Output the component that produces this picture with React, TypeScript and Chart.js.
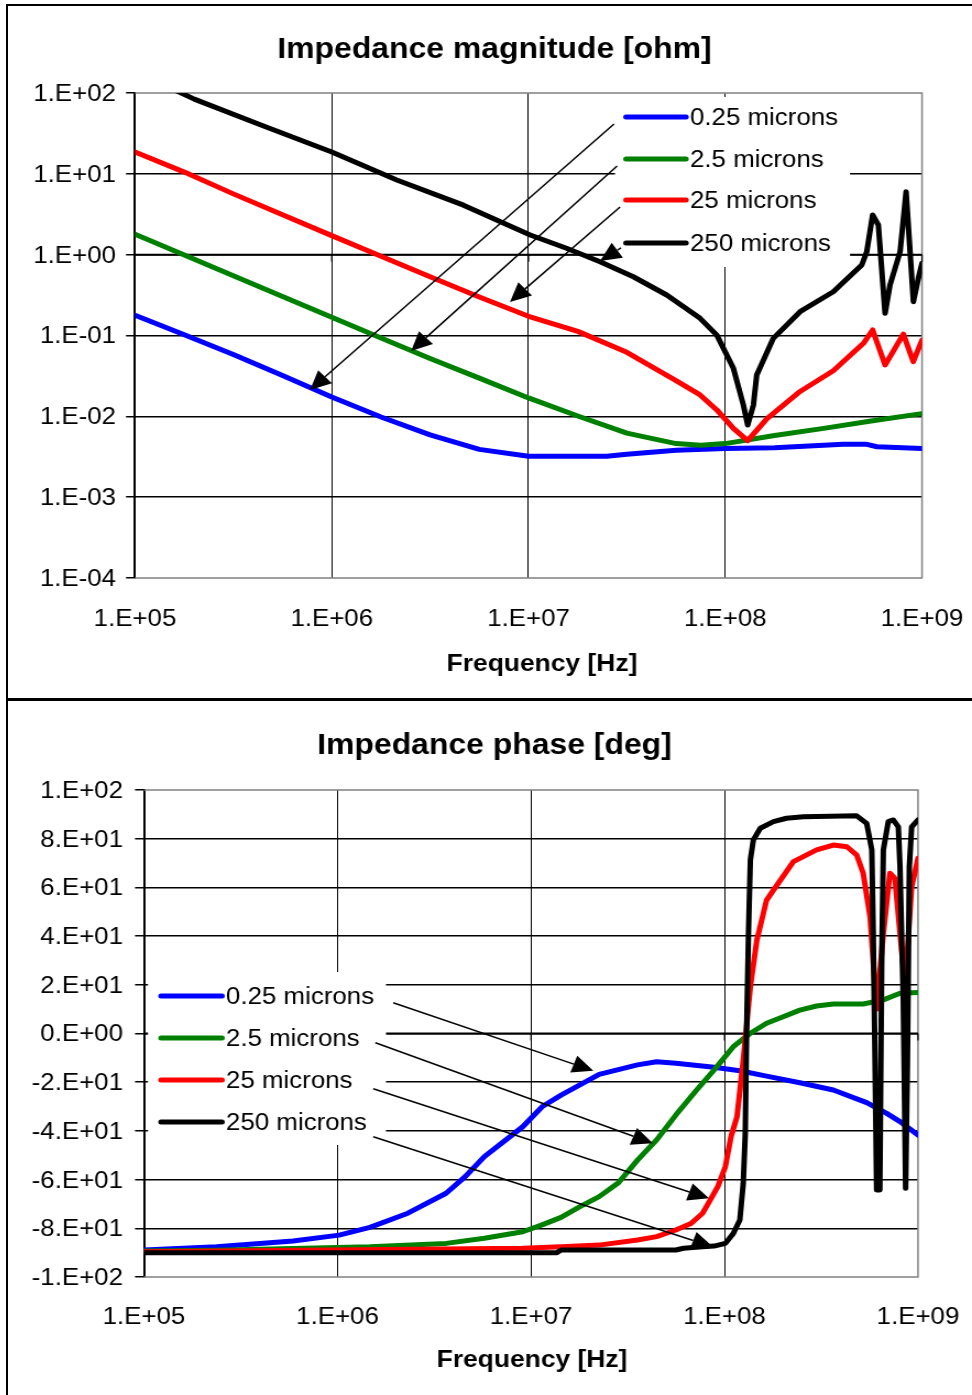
import React, { useEffect, useRef } from 'react';
import { Chart, registerables } from 'chart.js';

Chart.register(...registerables);

const FONT = "'Liberation Sans', Arial, Helvetica, sans-serif";

// ---------- shared ----------
const SERIES_NAMES = ['0.25 microns', '2.5 microns', '25 microns', '250 microns'];
const SERIES_COLORS = ['#0000ff', '#008000', '#ff0000', '#000000'];
const FREQ_TICKS = [1e5, 1e6, 1e7, 1e8, 1e9];
const FREQ_TICK_LABELS = ['1.E+05', '1.E+06', '1.E+07', '1.E+08', '1.E+09'];
const X_TITLE = 'Frequency [Hz]';

// ---------- magnitude chart ----------
const MAG_TITLE = 'Impedance magnitude [ohm]';
const MAG_TICKS = [1e-4, 1e-3, 1e-2, 1e-1, 1, 10, 100];
const MAG_TICK_LABELS = ['1.E-04', '1.E-03', '1.E-02', '1.E-01', '1.E+00', '1.E+01', '1.E+02'];

const MAG_FREQ_0_25 = [1e5, 1.78e5, 3.16e5, 5.62e5, 1e6, 1.78e6, 3.16e6, 5.62e6, 1e7, 1.78e7, 2.5e7, 3.16e7, 5.62e7, 1e8, 1.78e8, 3.16e8, 3.96e8, 5.25e8, 5.9e8, 1e9];
const MAG_0_25 = [0.178, 0.102, 0.0582, 0.0319, 0.0173, 0.0098, 0.0059, 0.0039, 0.0032, 0.0032, 0.0032, 0.0034, 0.0038, 0.004, 0.0041, 0.0044, 0.0045, 0.0045, 0.0042, 0.004];

const MAG_FREQ_2_5 = [1e5, 1.78e5, 3.16e5, 5.62e5, 1e6, 1.78e6, 3.16e6, 5.62e6, 1e7, 1.78e7, 3.16e7, 5.62e7, 7.5e7, 1e8, 1.78e8, 3.16e8, 5.62e8, 1e9];
const MAG_2_5 = [1.79, 0.99, 0.547, 0.303, 0.168, 0.093, 0.052, 0.0297, 0.0169, 0.0101, 0.0062, 0.0046, 0.0044, 0.0046, 0.0058, 0.0071, 0.0088, 0.0108];

const MAG_FREQ_25 = [1e5, 1.78e5, 3.16e5, 5.62e5, 1e6, 1.78e6, 3.16e6, 5.62e6, 1e7, 1.78e7, 3.16e7, 5.62e7, 7.45e7, 9.06e7, 1.1e8, 1.3e8, 1.625e8, 2.4e8, 3.54e8, 5.04e8, 5.61e8, 6.49e8, 8.04e8, 9.03e8, 1e9];
const MAG_25 = [18.6, 10.5, 5.65, 3.11, 1.72, 0.955, 0.532, 0.3, 0.173, 0.1125, 0.062, 0.0277, 0.0184, 0.012, 0.0071, 0.005, 0.0093, 0.0203, 0.0366, 0.08, 0.117, 0.0432, 0.104, 0.0474, 0.088];

const MAG_FREQ_250 = [1e5, 2.0e5, 4.5e5, 1e6, 2.14e6, 4.67e6, 1.02e7, 1.56e7, 2.31e7, 3.41e7, 5.04e7, 7.45e7, 9.06e7, 1.1e8, 1.236e8, 1.3e8, 1.39e8, 1.445e8, 1.755e8, 2.4e8, 3.54e8, 4.94e8, 5.24e8, 5.61e8, 6.0e8, 6.49e8, 6.88e8, 7.74e8, 8.3e8, 9.04e8, 9.58e8, 1e9];
const MAG_250 = [185, 84, 39, 18.6, 8.4, 4.1, 1.75, 1.2, 0.818, 0.533, 0.317, 0.163, 0.101, 0.0393, 0.0138, 0.0078, 0.0138, 0.0324, 0.0923, 0.197, 0.348, 0.745, 1.09, 3.1, 2.33, 0.188, 0.422, 1.09, 6.0, 0.262, 0.509, 0.782];

// arrows: [fromFreq, fromValue, toFreq, toValue]
const MAG_ARROWS = [
  [2.72e7, 41.4, 7.75e5, 0.0212],
  [2.82e7, 12.5, 2.53e6, 0.0643],
  [2.92e7, 3.89, 8.05e6, 0.26],
  [2.95e7, 1.21, 2.31e7, 0.835],
];

// ---------- phase chart ----------
const PHASE_TITLE = 'Impedance phase [deg]';
const PHASE_TICKS = [-100, -80, -60, -40, -20, 0, 20, 40, 60, 80, 100];
const PHASE_TICK_LABELS = ['-1.E+02', '-8.E+01', '-6.E+01', '-4.E+01', '-2.E+01', '0.E+00', '2.E+01', '4.E+01', '6.E+01', '8.E+01', '1.E+02'];

const PH_FREQ_0_25 = [1e5, 2.37e5, 5.89e5, 1.02e6, 1.47e6, 2.31e6, 3.64e6, 4.57e6, 5.74e6, 9.06e6, 1.14e7, 1.43e7, 2.25e7, 3.55e7, 4.46e7, 5.6e7, 8.83e7, 1.2e8, 1.65e8, 2.45e8, 3.65e8, 5.43e8, 6.89e8, 8.07e8, 1e9];
const PH_0_25 = [-88.9, -87.6, -85.2, -82.8, -79.6, -73.8, -65.6, -58.8, -50.6, -38.3, -30.1, -25.3, -16.8, -12.9, -11.6, -12.2, -13.9, -15.3, -17.5, -20.2, -23.2, -28.4, -32.8, -36.2, -41.7];

const PH_FREQ_2_5 = [1e5, 2.37e5, 1.47e6, 3.64e6, 5.74e6, 9.06e6, 1.14e7, 1.43e7, 1.79e7, 2.25e7, 2.83e7, 3.55e7, 4.46e7, 5.6e7, 7.05e7, 8.83e7, 1.11e8, 1.36e8, 1.65e8, 2.01e8, 2.45e8, 2.99e8, 3.65e8, 5.21e8, 6.62e8, 8.07e8, 1e9];
const PH_2_5 = [-89.3, -89.0, -87.6, -86.2, -84.1, -81.4, -78.6, -75.5, -71.1, -67.0, -61.3, -52.0, -43.7, -33.5, -23.9, -15.0, -5.4, 0.1, 4.2, 6.9, 9.6, 11.3, 12.1, 12.1, 13.8, 16.5, 16.8];

const PH_FREQ_25 = [1e5, 9.06e6, 1.43e7, 2.25e7, 3.55e7, 4.46e7, 5.6e7, 6.71e7, 7.71e7, 8.43e7, 9.23e7, 1.01e8, 1.08e8, 1.16e8, 1.25e8, 1.36e8, 1.47e8, 1.65e8, 1.79e8, 2.27e8, 2.99e8, 3.65e8, 4.29e8, 4.82e8, 5.21e8, 5.65e8, 6.11e8, 6.62e8, 7.16e8, 7.6e8, 8.07e8, 8.57e8, 9.27e8, 1e9];
const PH_25 = [-89.6, -88.2, -87.6, -86.9, -84.8, -83.4, -80.7, -78.0, -73.8, -68.4, -62.9, -54.7, -42.4, -34.2, -10.9, 19.2, 38.4, 54.8, 58.9, 70.6, 75.4, 77.4, 76.7, 73.3, 65.8, 48.0, 10.0, 41.2, 65.8, 63.7, 41.2, 19.0, 60.3, 72.0];

const PH_FREQ_250 = [1e5, 1.36e7, 1.43e7, 5.6e7, 6.14e7, 7.71e7, 8.83e7, 1.01e8, 1.11e8, 1.2e8, 1.25e8, 1.28e8, 1.3e8, 1.33e8, 1.36e8, 1.41e8, 1.53e8, 1.79e8, 2.09e8, 2.55e8, 4.82e8, 5.43e8, 5.77e8, 5.87e8, 6.0e8, 6.11e8, 6.35e8, 6.49e8, 6.62e8, 7.02e8, 7.45e8, 7.91e8, 8.07e8, 8.39e8, 8.63e8, 8.81e8, 9.02e8, 9.27e8, 1e9];
const PH_250 = [-90.0, -90.0, -88.9, -88.9, -88.2, -87.6, -87.3, -86.2, -82.1, -76.6, -61.5, -41.0, 0.1, 41.1, 71.3, 79.5, 84.3, 87.0, 88.4, 89.0, 89.4, 86.3, 75.4, 41.1, -13.6, -64.3, -64.3, 27.4, 75.4, 87.0, 87.7, 84.9, 68.5, 13.8, -63.6, -13.6, 68.5, 84.9, 87.7];

const PHASE_ARROWS = [
  [1.94e6, 12.6, 2.1e7, -15.3],
  [1.57e6, -3.8, 4.26e7, -45.1],
  [1.53e6, -22.7, 8.32e7, -67.7],
  [1.53e6, -42.4, 8.71e7, -87.6],
];

// ---------- layout helpers ----------
const CSS_W = 964;
const LOGICAL_W = 876;
const S = CSS_W / LOGICAL_W; // horizontal stretch of the canvas

type Decor = {
  originX: number;
  originY: number;
  title: string;
  titleAt: [number, number];
  xTitleAt: [number, number];
  legendBox: [number, number, number, number];
  legendItemsY: number[];
  legendLine: [number, number];
  legendTextX: number;
  axisValue: number;
  arrows: number[][];
};

function makeDecor(d: Decor) {
  const X = (p: number) => (p - d.originX) / S;
  const Y = (p: number) => p - d.originY;
  return {
    id: 'decor',
    beforeDatasetsDraw(chart: any) {
      const { ctx, chartArea: a } = chart;
      const xs = chart.scales.x;
      const ys = chart.scales.y;
      ctx.save();
      // plot-area border (grey)
      ctx.strokeStyle = '#808080';
      ctx.lineWidth = 1.5;
      ctx.beginPath();
      ctx.moveTo(a.left, a.top);
      ctx.lineTo(a.right, a.top);
      ctx.lineTo(a.right, a.bottom);
      ctx.lineTo(a.left, a.bottom);
      ctx.stroke();
      // horizontal axis crossing line with tick marks
      const ay = ys.getPixelForValue(d.axisValue);
      ctx.strokeStyle = '#000';
      ctx.lineWidth = 2;
      ctx.beginPath();
      ctx.moveTo(a.left, ay);
      ctx.lineTo(a.right, ay);
      ctx.stroke();
      ctx.lineWidth = 1.2;
      ctx.beginPath();
      FREQ_TICKS.forEach((v) => {
        const x = xs.getPixelForValue(v);
        ctx.moveTo(x, ay);
        ctx.lineTo(x, ay + 7);
      });
      ctx.stroke();
      // legend
      const [bx0, by0, bx1, by1] = d.legendBox;
      ctx.fillStyle = '#ffffff';
      ctx.fillRect(X(bx0), Y(by0), X(bx1) - X(bx0), Y(by1) - Y(by0));
      ctx.font = `23.5px ${FONT}`;
      ctx.textBaseline = 'middle';
      ctx.textAlign = 'left';
      SERIES_NAMES.forEach((name, i) => {
        const y = Y(d.legendItemsY[i]);
        ctx.strokeStyle = SERIES_COLORS[i];
        ctx.lineWidth = 5;
        ctx.lineCap = 'round';
        ctx.beginPath();
        ctx.moveTo(X(d.legendLine[0]), y);
        ctx.lineTo(X(d.legendLine[1]), y);
        ctx.stroke();
        ctx.fillStyle = '#000';
        ctx.fillText(name, X(d.legendTextX), y + 1.5);
      });
      ctx.restore();
    },
    afterDatasetsDraw(chart: any) {
      const { ctx } = chart;
      const xs = chart.scales.x;
      const ys = chart.scales.y;
      ctx.save();
      ctx.strokeStyle = '#000';
      ctx.fillStyle = '#000';
      ctx.lineWidth = 1.5;
      d.arrows.forEach(([f1, v1, f2, v2]) => {
        const x1 = xs.getPixelForValue(f1);
        const y1 = ys.getPixelForValue(v1);
        const x2 = xs.getPixelForValue(f2);
        const y2 = ys.getPixelForValue(v2);
        const ang = Math.atan2(y2 - y1, x2 - x1);
        const headLen = 19;
        const half = 9;
        const bx = x2 - headLen * Math.cos(ang);
        const by = y2 - headLen * Math.sin(ang);
        ctx.beginPath();
        ctx.moveTo(x1, y1);
        ctx.lineTo(bx, by);
        ctx.stroke();
        ctx.beginPath();
        ctx.moveTo(x2, y2);
        ctx.lineTo(bx + half * Math.sin(ang), by - half * Math.cos(ang));
        ctx.lineTo(bx - half * Math.sin(ang), by + half * Math.cos(ang));
        ctx.closePath();
        ctx.fill();
      });
      ctx.restore();
    },
    afterDraw(chart: any) {
      const { ctx } = chart;
      ctx.save();
      ctx.fillStyle = '#000';
      ctx.textAlign = 'center';
      ctx.textBaseline = 'middle';
      ctx.font = `bold 29px ${FONT}`;
      ctx.fillText(d.title, X(d.titleAt[0]), Y(d.titleAt[1]));
      ctx.font = `bold 24px ${FONT}`;
      ctx.fillText(X_TITLE, X(d.xTitleAt[0]), Y(d.xTitleAt[1]));
      ctx.restore();
    },
  };
}

type Build = {
  height: number;
  originX: number;
  originY: number;
  plotLeft: number;
  plotRight: number;
  plotTop: number;
  plotBottom: number;
  yType: 'logarithmic' | 'linear';
  yMin: number;
  yMax: number;
  yTicks: number[];
  yLabels: string[];
  yPad: number;
  xPad: number;
  series: { f: number[]; v: number[] }[];
  decor: Decor;
};

function buildConfig(b: Build): any {
  const left = (b.plotLeft - b.originX) / S;
  const right = (b.plotRight - b.originX) / S;
  const top = b.plotTop - b.originY;
  const bottom = b.plotBottom - b.originY;
  const font = { family: FONT, size: 23.5 };
  return {
    type: 'line',
    data: {
      datasets: b.series.map((s, i) => ({
        label: SERIES_NAMES[i],
        data: s.f.map((f, j) => ({ x: f, y: s.v[j] })),
        borderColor: SERIES_COLORS[i],
        backgroundColor: SERIES_COLORS[i],
        borderWidth: 5,
        pointRadius: 0,
        pointHoverRadius: 0,
        tension: 0,
        fill: false,
        borderJoinStyle: 'round',
        borderCapStyle: 'round',
        order: 4 - i,
      })),
    },
    options: {
      responsive: false,
      animation: false,
      events: [],
      layout: { padding: { left: 0, right: LOGICAL_W - right, top, bottom: 0 } },
      plugins: {
        legend: { display: false },
        title: { display: false },
        tooltip: { enabled: false },
      },
      scales: {
        x: {
          type: 'logarithmic',
          min: 1e5,
          max: 1e9,
          afterBuildTicks: (s: any) => {
            s.ticks = FREQ_TICKS.map((value) => ({ value }));
          },
          afterFit: (s: any) => {
            s.height = b.height - bottom;
          },
          ticks: {
            callback: (_v: any, i: number) => FREQ_TICK_LABELS[i],
            autoSkip: false,
            maxRotation: 0,
            minRotation: 0,
            padding: 0,
            color: '#000',
            font,
          },
          grid: {
            color: (c: any) => (c.tick && c.tick.value === 1e9 ? 'rgba(0,0,0,0)' : '#000'),
            tickColor: 'rgba(0,0,0,0)',
            lineWidth: 1,
            drawTicks: true,
            tickLength: b.xPad,
          },
          border: { display: false },
          title: { display: false },
        },
        y: {
          type: b.yType,
          min: b.yMin,
          max: b.yMax,
          afterBuildTicks: (s: any) => {
            s.ticks = b.yTicks.map((value) => ({ value }));
          },
          afterFit: (s: any) => {
            s.width = left;
          },
          ticks: {
            callback: (_v: any, i: number) => b.yLabels[i],
            autoSkip: false,
            padding: b.yPad / S,
            labelOffset: 1.5,
            color: '#000',
            font,
          },
          grid: {
            color: (c: any) =>
              c.tick && (c.tick.value === b.yMax || c.tick.value === b.yMin) ? 'rgba(0,0,0,0)' : '#000',
            tickColor: '#000',
            lineWidth: 1.5,
            drawTicks: true,
            tickLength: 9 / S,
          },
          border: { display: true, color: '#000', width: 2 },
          title: { display: false },
        },
      },
    },
    plugins: [makeDecor(b.decor)],
  };
}

const magConfig = () =>
  buildConfig({
    height: 692,
    originX: 8,
    originY: 6,
    plotLeft: 135,
    plotRight: 922,
    plotTop: 93,
    plotBottom: 578,
    yType: 'logarithmic',
    yMin: 1e-4,
    yMax: 100,
    yTicks: MAG_TICKS,
    yLabels: MAG_TICK_LABELS,
    yPad: 10,
    xPad: 27,
    series: [
      { f: MAG_FREQ_0_25, v: MAG_0_25 },
      { f: MAG_FREQ_2_5, v: MAG_2_5 },
      { f: MAG_FREQ_25, v: MAG_25 },
      { f: MAG_FREQ_250, v: MAG_250 },
    ],
    decor: {
      originX: 8,
      originY: 6,
      title: MAG_TITLE,
      titleAt: [494.5, 50],
      xTitleAt: [542, 664],
      legendBox: [615, 97, 850, 267],
      legendItemsY: [117, 159, 200, 243],
      legendLine: [626, 686],
      legendTextX: 690,
      axisValue: 1,
      arrows: MAG_ARROWS,
    },
  });

const phaseConfig = () =>
  buildConfig({
    height: 694,
    originX: 8,
    originY: 701,
    plotLeft: 144,
    plotRight: 918,
    plotTop: 790,
    plotBottom: 1277,
    yType: 'linear',
    yMin: -100,
    yMax: 100,
    yTicks: PHASE_TICKS,
    yLabels: PHASE_TICK_LABELS,
    yPad: 12,
    xPad: 26,
    series: [
      { f: PH_FREQ_0_25, v: PH_0_25 },
      { f: PH_FREQ_2_5, v: PH_2_5 },
      { f: PH_FREQ_25, v: PH_25 },
      { f: PH_FREQ_250, v: PH_250 },
    ],
    decor: {
      originX: 8,
      originY: 701,
      title: PHASE_TITLE,
      titleAt: [494.5, 746],
      xTitleAt: [532, 1360],
      legendBox: [148, 972, 386, 1145],
      legendItemsY: [996, 1038, 1080, 1122],
      legendLine: [161, 222],
      legendTextX: 226,
      axisValue: 0,
      arrows: PHASE_ARROWS,
    },
  });

function ChartCanvas({ make, left, top, h }: { make: () => any; left: number; top: number; h: number }) {
  const ref = useRef<HTMLCanvasElement>(null);
  useEffect(() => {
    const chart = new Chart(ref.current as HTMLCanvasElement, make());
    return () => chart.destroy();
  }, []);
  return (
    <canvas
      ref={ref}
      width={LOGICAL_W}
      height={h}
      style={{ position: 'absolute', left, top, width: CSS_W, height: h }}
    />
  );
}

export default function App() {
  return (
    <div style={{ position: 'absolute', left: 0, top: 0, width: 972, height: 1395, overflow: 'hidden', background: '#fff' }}>
      <div
        style={{
          position: 'absolute',
          left: 6,
          top: 4,
          width: 964,
          height: 692,
          borderLeft: '2px solid #000',
          borderTop: '2px solid #000',
          borderBottom: '3px solid #000',
        }}
      />
      <div style={{ position: 'absolute', left: 6, top: 701, width: 964, height: 694, borderLeft: '2px solid #000' }} />
      <ChartCanvas make={magConfig} left={8} top={6} h={692} />
      <ChartCanvas make={phaseConfig} left={8} top={701} h={694} />
    </div>
  );
}
